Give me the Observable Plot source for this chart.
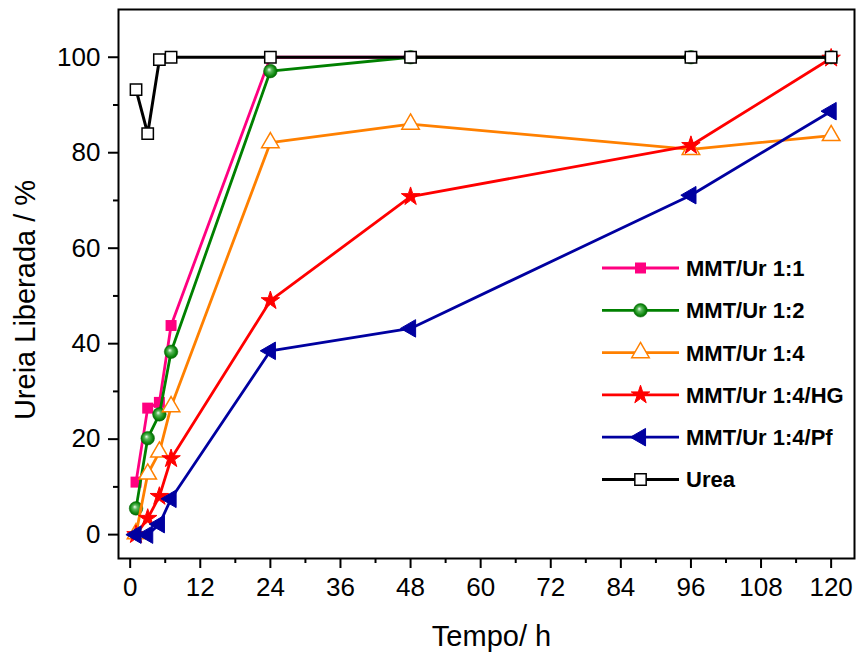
<!DOCTYPE html>
<html>
<head>
<meta charset="utf-8">
<script src="https://cdn.jsdelivr.net/npm/d3@7"></script>
<script src="https://cdn.jsdelivr.net/npm/@observablehq/plot@0.6"></script>
<style>
  html, body { margin: 0; padding: 0; background: #fff; }
  #chart svg { display: block; }
</style>
</head>
<body>
<div id="chart"></div>
<script>
// ---- Data ----
const tempo = [1, 3, 5, 7, 24, 48, 96, 120];
const mmtUr11   = [11.0, 26.5, 27.7, 43.8, 100, 100, 100, 100];
const mmtUr12   = [5.5, 20.2, 25.2, 38.3, 97.1, 100, 100, 100];
const mmtUr14   = [0.2, 12.7, 17.3, 26.8, 82.1, 86.0, 80.7, 83.6];
const mmtUr14HG = [0.0, 3.4, 8.0, 15.9, 49.0, 70.8, 81.5, 99.8];
const mmtUr14Pf = [0.0, 0.0, 2.2, 7.5, 38.5, 43.2, 71.1, 88.7];
const urea      = [93.2, 84.0, 99.5, 100, 100, 100, 100, 100];

const seriesNames = ["MMT/Ur 1:1", "MMT/Ur 1:2", "MMT/Ur 1:4", "MMT/Ur 1:4/HG", "MMT/Ur 1:4/Pf", "Urea"];
const seriesValues = [mmtUr11, mmtUr12, mmtUr14, mmtUr14HG, mmtUr14Pf, urea];

const xTicks = [0, 12, 24, 36, 48, 60, 72, 84, 96, 108, 120];
const xMinorTicks = [6, 18, 30, 42, 54, 66, 78, 90, 102, 114];
const yTicks = [0, 20, 40, 60, 80, 100];
const yMinorTicks = [10, 30, 50, 70, 90];
const xLabel = "Tempo/ h";
const yLabel = "Ureia Liberada / %";

// ---- Styles ----
const leftTriangle = {
  draw(context, size) {
    const s = Math.sqrt(4 * size / Math.sqrt(3));
    const h = s * Math.sqrt(3) / 2;
    context.moveTo(-2 * h / 3, 0);
    context.lineTo(h / 3, -s / 2);
    context.lineTo(h / 3, s / 2);
    context.closePath();
  }
};
const styles = [
  {color: "#ff0080", symbol: d3.symbolSquare,   r: 6.2, fill: "#ff0080", stroke: "none", sw: 0},
  {color: "#008000", symbol: d3.symbolCircle,   r: 6.8, fill: "url(#sphere)", stroke: "#006a00", sw: 0.5},
  {color: "#ff8000", symbol: d3.symbolTriangle, r: 6.5, fill: "white", stroke: "#ff8000", sw: 1.5},
  {color: "#ff0000", symbol: d3.symbolStar,     r: 5.8, fill: "#ff0000", stroke: "#ff0000", sw: 1},
  {color: "#0000a0", symbol: leftTriangle,      r: 6.5, fill: "#0000a0", stroke: "#0000a0", sw: 1},
  {color: "#000000", symbol: d3.symbolSquare,   r: 6.4, fill: "white", stroke: "#000000", sw: 1.5}
];

const table = seriesNames.map((name, i) => tempo.map((t, j) => ({t, v: seriesValues[i][j], name})));

const fontFamily = "'Liberation Sans', Arial, Helvetica, sans-serif";

const seriesMarks = table.flatMap((rows, i) => {
  const s = styles[i];
  return [
    Plot.line(rows, {x: "t", y: "v", stroke: s.color, strokeWidth: i === 5 ? 3 : 2.8}),
    Plot.dot(rows, {x: "t", y: "v", symbol: s.symbol, r: s.r, fill: s.fill, stroke: s.stroke, strokeWidth: s.sw})
  ];
});

const chart = Plot.plot({
  width: 856,
  height: 652,
  marginLeft: 118,
  marginRight: 2,
  marginTop: 9,
  marginBottom: 94,
  style: {fontFamily, fontSize: "26px", background: "white", color: "black"},
  x: {domain: [-2, 124], axis: null},
  y: {domain: [-5, 110], axis: null},
  marks: [
    Plot.axisX({ticks: xTicks, tickSize: 10, tickPadding: 9, strokeWidth: 2, fontSize: 26, label: null}),
    Plot.axisX({ticks: xMinorTicks, tickSize: 5, strokeWidth: 2, tickFormat: () => "", label: null}),
    Plot.axisY({ticks: yTicks, tickSize: 10, tickPadding: 8, strokeWidth: 2, fontSize: 26, label: null}),
    Plot.axisY({ticks: yMinorTicks, tickSize: 5, strokeWidth: 2, tickFormat: () => "", label: null}),
    ...seriesMarks,
    Plot.frame({stroke: "black", strokeWidth: 2}),
    Plot.text([yLabel], {frameAnchor: "left", textAnchor: "middle", lineAnchor: "middle", dx: -93, dy: 16, rotate: -90, fontSize: 29, fill: "black"}),
    Plot.text([xLabel], {frameAnchor: "bottom", textAnchor: "middle", lineAnchor: "middle", dx: 5, dy: 78, fontSize: 29, fill: "black"})
  ]
});

// gradient for the spherical green markers
const svg = d3.select(chart);
const defs = svg.insert("defs", ":first-child");
const grad = defs.append("radialGradient").attr("id", "sphere")
  .attr("cx", "50%").attr("cy", "50%").attr("r", "55%").attr("fx", "40%").attr("fy", "38%");
grad.append("stop").attr("offset", "0%").attr("stop-color", "#f0fff0");
grad.append("stop").attr("offset", "30%").attr("stop-color", "#5cb85c");
grad.append("stop").attr("offset", "70%").attr("stop-color", "#108a10");
grad.append("stop").attr("offset", "100%").attr("stop-color", "#005a00");

// legend
const legendLineX1 = 602, legendLineX2 = 679, legendSymX = 640.5, legendTextX = 686;
const legendTop = 268, legendStep = 42.3;
const lg = svg.append("g")
  .attr("font-family", fontFamily).attr("font-weight", "bold").attr("font-size", 22)
  .attr("text-anchor", "start");
seriesNames.forEach((name, i) => {
  const s = styles[i];
  const y = legendTop + i * legendStep;
  lg.append("line").attr("x1", legendLineX1).attr("x2", legendLineX2).attr("y1", y).attr("y2", y)
    .attr("stroke", s.color).attr("stroke-width", i === 5 ? 3 : 2.8);
  lg.append("path").attr("transform", `translate(${legendSymX},${y})`)
    .attr("d", d3.symbol(s.symbol, Math.PI * s.r * s.r)())
    .attr("fill", s.fill).attr("stroke", s.stroke).attr("stroke-width", s.sw);
  lg.append("text").attr("x", legendTextX).attr("y", y).attr("dy", "0.36em")
    .attr("text-anchor", "start").attr("fill", "black").text(name);
});

document.getElementById("chart").appendChild(chart);
</script>
</body>
</html>
